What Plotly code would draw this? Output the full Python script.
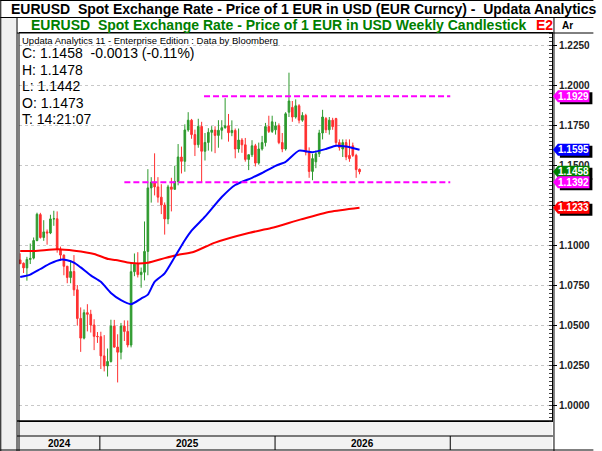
import plotly.graph_objects as go
import pandas as pd

# ---------------- data (weekly candles, week-ending dates) ----------------
dates = [
 "2024-07-19","2024-07-26","2024-08-02","2024-08-09","2024-08-16","2024-08-23","2024-08-30",
 "2024-09-06","2024-09-13","2024-09-20","2024-09-27","2024-10-04","2024-10-11","2024-10-18",
 "2024-10-25","2024-11-01","2024-11-08","2024-11-15","2024-11-22","2024-11-29","2024-12-06",
 "2024-12-13","2024-12-20","2024-12-27","2025-01-03","2025-01-10","2025-01-17","2025-01-24",
 "2025-01-31","2025-02-07","2025-02-14","2025-02-21","2025-02-28","2025-03-07","2025-03-14",
 "2025-03-21","2025-03-28","2025-04-04","2025-04-11","2025-04-18","2025-04-25","2025-05-02",
 "2025-05-09","2025-05-16","2025-05-23","2025-05-30","2025-06-06","2025-06-13","2025-06-20",
 "2025-06-27","2025-07-04","2025-07-11","2025-07-18","2025-07-25","2025-08-01","2025-08-08",
 "2025-08-15","2025-08-22","2025-08-29","2025-09-05","2025-09-12","2025-09-19","2025-09-26",
 "2025-10-03","2025-10-10","2025-10-17","2025-10-24","2025-10-31","2025-11-07","2025-11-14",
 "2025-11-21","2025-11-28","2025-12-05","2025-12-12","2025-12-19","2025-12-26","2026-01-02",
 "2026-01-09","2026-01-16","2026-01-23","2026-01-30","2026-02-06","2026-02-13","2026-02-20",
 "2026-02-27","2026-03-06","2026-03-13","2026-03-20","2026-03-27","2026-04-03","2026-04-10",
 "2026-04-17","2026-04-24","2026-05-01","2026-05-08","2026-05-15","2026-05-22","2026-05-29",
 "2026-06-05","2026-06-12","2026-06-19","2026-06-26"]
opens = [
 1.0907,1.0886,1.0857,1.0910,1.0918,1.1028,1.1190,1.1047,1.1082,1.1075,1.1163,1.1164,1.0974,1.0937,
 1.0867,1.0797,1.0834,1.0720,1.0541,1.0418,1.0577,1.0567,1.0500,1.0429,1.0427,1.0307,1.0244,1.0272,
 1.0493,1.0362,1.0330,1.0493,1.0460,1.0375,1.0833,1.0880,1.0815,1.0830,1.0960,1.1357,1.1393,1.1363,
 1.1299,1.1250,1.1163,1.1363,1.1348,1.1397,1.1550,1.1523,1.1719,1.1780,1.1690,1.1627,1.1741,1.1586,
 1.1641,1.1704,1.1718,1.1685,1.1717,1.1733,1.1745,1.1702,1.1716,1.1600,1.1656,1.1626,1.1535,1.1564,
 1.1620,1.1512,1.1600,1.1640,1.1740,1.1710,1.1720,1.1745,1.1640,1.1600,1.1830,1.1860,1.1800,1.1870,
 1.1780,1.1810,1.1580,1.1460,1.1520,1.1570,1.1700,1.1790,1.1720,1.1780,1.1790,1.1640,1.1600,1.1640,
 1.1560,1.1620,1.1560,1.1473]
highs = [
 1.0948,1.0891,1.0926,1.1009,1.1047,1.1202,1.1201,1.1155,1.1097,1.1189,1.1214,1.1210,1.0990,1.0941,
 1.0870,1.0905,1.0937,1.0750,1.0610,1.0597,1.0630,1.0595,1.0536,1.0456,1.0458,1.0437,1.0353,1.0533,
 1.0532,1.0442,1.0513,1.0529,1.0528,1.0888,1.0947,1.0955,1.0859,1.1147,1.1474,1.1424,1.1573,1.1424,
 1.1380,1.1266,1.1376,1.1420,1.1495,1.1631,1.1615,1.1754,1.1830,1.1788,1.1721,1.1789,1.1770,1.1700,
 1.1730,1.1743,1.1742,1.1780,1.1780,1.1918,1.1819,1.1779,1.1728,1.1728,1.1668,1.1669,1.1566,1.1655,
 1.1632,1.1640,1.1682,1.1763,1.1808,1.1808,1.1770,1.1760,1.1700,1.1830,1.2077,1.1900,1.1910,1.1880,
 1.1830,1.1820,1.1610,1.1570,1.1590,1.1720,1.1845,1.1800,1.1800,1.1795,1.1795,1.1660,1.1660,1.1660,
 1.1660,1.1640,1.1570,1.1478]
lows = [
 1.0882,1.0825,1.0777,1.0881,1.0910,1.1023,1.1040,1.1026,1.1002,1.1068,1.1120,1.0952,1.0900,1.0811,
 1.0761,1.0761,1.0682,1.0496,1.0332,1.0410,1.0460,1.0453,1.0343,1.0388,1.0225,1.0210,1.0178,1.0265,
 1.0358,1.0141,1.0285,1.0400,1.0360,1.0360,1.0805,1.0797,1.0733,1.0779,1.0811,1.1265,1.1310,1.1265,
 1.1193,1.1065,1.1130,1.1210,1.1347,1.1373,1.1447,1.1458,1.1708,1.1664,1.1556,1.1608,1.1391,1.1528,
 1.1590,1.1584,1.1574,1.1608,1.1660,1.1727,1.1646,1.1680,1.1542,1.1577,1.1576,1.1521,1.1468,1.1550,
 1.1491,1.1502,1.1590,1.1616,1.1700,1.1700,1.1690,1.1630,1.1580,1.1590,1.1800,1.1770,1.1790,1.1760,
 1.1770,1.1560,1.1420,1.1405,1.1480,1.1550,1.1660,1.1700,1.1690,1.1720,1.1620,1.1590,1.1550,1.1530,
 1.1520,1.1550,1.1420,1.1442]
closes = [
 1.0883,1.0857,1.0910,1.0916,1.1028,1.1192,1.1047,1.1082,1.1075,1.1163,1.1164,1.0974,1.0937,1.0867,
 1.0797,1.0834,1.0720,1.0541,1.0418,1.0577,1.0567,1.0500,1.0429,1.0427,1.0307,1.0244,1.0272,1.0493,
 1.0362,1.0330,1.0493,1.0460,1.0375,1.0833,1.0880,1.0815,1.0830,1.0960,1.1357,1.1393,1.1363,1.1299,
 1.1250,1.1163,1.1363,1.1348,1.1397,1.1550,1.1523,1.1719,1.1780,1.1690,1.1627,1.1741,1.1586,1.1641,
 1.1704,1.1718,1.1685,1.1717,1.1733,1.1745,1.1702,1.1716,1.1600,1.1656,1.1626,1.1535,1.1564,1.1620,
 1.1512,1.1600,1.1640,1.1740,1.1710,1.1770,1.1745,1.1640,1.1600,1.1820,1.1900,1.1800,1.1870,1.1780,
 1.1810,1.1580,1.1460,1.1540,1.1570,1.1700,1.1800,1.1720,1.1780,1.1740,1.1640,1.1610,1.1640,1.1550,
 1.1540,1.1560,1.1471,1.1458]

# moving averages
ma_fast_dates = ["2024-07-19","2024-08-09","2024-08-30","2024-09-20","2024-10-11","2024-10-25",
 "2024-11-08","2024-11-22","2024-12-13","2025-01-03","2025-01-24","2025-02-14","2025-03-07",
 "2025-03-28","2025-04-11","2025-04-25","2025-05-16","2025-06-06","2025-06-27","2025-07-11",
 "2025-08-08","2025-09-12","2025-10-10","2025-11-14","2025-12-05","2026-01-02","2026-01-23",
 "2026-02-20","2026-03-20","2026-04-17","2026-05-08","2026-05-29","2026-06-26"]
ma_fast = [1.0800,1.0815,1.0850,1.0885,1.0908,1.0905,1.0890,1.0860,1.0810,1.0770,1.0700,1.0655,
 1.0630,1.0665,1.0690,1.0770,1.0823,1.0925,1.1030,1.1090,1.1177,1.1300,1.1375,1.1420,1.1450,
 1.1495,1.1520,1.1590,1.1580,1.1600,1.1620,1.1615,1.1595]
ma_slow_dates = ["2024-07-19","2024-08-19","2024-10-05","2024-11-09","2024-12-20","2025-01-19",
 "2025-02-03","2025-03-07","2025-04-11","2025-05-16","2025-06-12","2025-07-13","2025-08-29",
 "2025-11-07","2025-12-24","2026-02-24","2026-04-26","2026-06-26"]
ma_slow = [1.0963,1.0963,1.0973,1.0964,1.0944,1.0912,1.0906,1.0887,1.0889,1.0918,1.0938,1.0955,
 1.1015,1.1075,1.1106,1.1160,1.1208,1.1233]

level_values = [1.1929, 1.1392]
level_starts = ["2025-08-06", "2025-02-21"]
tag_values = [1.1929, 1.1595, 1.1458, 1.1392, 1.1233]
tag_colors = ["#ff00ff", "#0000ff", "#008000", "#ff00ff", "#ff0000"]
y_ticks = [1.0, 1.025, 1.05, 1.075, 1.1, 1.125, 1.15, 1.175, 1.2, 1.225]
years = ["2024", "2025", "2026"]
year_bounds = ["2024-07-16", "2025-01-01", "2026-01-01", "2027-01-01"]
info_lines = ["C: 1.1458\u00a0\u00a0-0.0013 (-0.11%)", "H: 1.1478", "L: 1.1442", "O: 1.1473", "T: 14:21:07"]

# ---------------- layout geometry ----------------
W, H = 602, 451
L, R, T, B = 19, 560, 33, 421
PW, PH = R - L, B - T
YPX = 1600.0  # pixels per price unit (for tag sizes)
def px(x): return (x - L) / PW
def py(y): return (B - y) / PH
FONT = "Arial, Liberation Sans, sans-serif"

fig = go.Figure()
fig.add_trace(go.Candlestick(
    x=dates, open=opens, high=highs, low=lows, close=closes,
    increasing=dict(line=dict(color="#2e9a2e", width=1), fillcolor="#2e9a2e"),
    decreasing=dict(line=dict(color="#ff3030", width=1), fillcolor="#ff3030"),
    whiskerwidth=0, showlegend=False, hoverinfo="skip"))
fig.add_trace(go.Scatter(x=ma_slow_dates, y=ma_slow, mode="lines",
    line=dict(color="#ff0000", width=2, shape="spline", smoothing=0.6), showlegend=False))
fig.add_trace(go.Scatter(x=ma_fast_dates, y=ma_fast, mode="lines",
    line=dict(color="#0000ff", width=2, shape="spline", smoothing=0.6), showlegend=False))

shapes = []
shapes.append(dict(type="rect", xref="paper", yref="paper", x0=px(0), x1=px(17), y0=py(17), y1=py(451),
                   fillcolor="#f0f0f0", line=dict(width=0), layer="below"))
shapes.append(dict(type="rect", xref="paper", yref="paper", x0=0, x1=1, y0=py(421), y1=py(450),
                   fillcolor="#f2f2f2", line=dict(width=0), layer="below"))
def hline(y, x0, x1, w=1):
    shapes.append(dict(type="line", xref="paper", yref="paper", x0=px(x0), x1=px(x1), y0=py(y), y1=py(y),
                       line=dict(color="black", width=w)))
def vline(x, y0, y1, w=1):
    shapes.append(dict(type="line", xref="paper", yref="paper", x0=px(x), x1=px(x), y0=py(y0), y1=py(y1),
                       line=dict(color="black", width=w)))
hline(17.5, 0, 602)
hline(33, 17, 602)
hline(421, 17, 561, 1.5)
hline(436, 17, 561)
hline(450, 0, 602)
hline(0.5, 0, 602)
vline(0.5, 0, 451)
vline(17, 17, 451)
vline(19, 33, 451)
vline(562, 17, 451)
for d in year_bounds[1:]:
    shapes.append(dict(type="line", xref="x", yref="paper", x0=d, x1=d, y0=py(436), y1=py(450),
                       line=dict(color="black", width=1)))
for v, s in zip(level_values, level_starts):
    shapes.append(dict(type="line", xref="x", yref="y", x0=s, x1=year_bounds[-1], y0=v, y1=v,
                       line=dict(color="#ff00ff", width=2, dash="6px,3px")))

annotations = []
for v, c in zip(tag_values, tag_colors):
    h = 6.0 / YPX
    s = 2.0 / YPX
    # shadow
    shapes.append(dict(type="rect", xref="paper", yref="y", x0=px(568), x1=px(601), y0=v - h - s, y1=v + h - s,
                       fillcolor="black", line=dict(width=0)))
    # body with arrow point
    shapes.append(dict(type="path", xref="paper", yref="y",
        path="M %f %f L %f %f L %f %f L %f %f L %f %f Z" % (
            px(561), v, px(566), v + h, px(598), v + h, px(598), v - h, px(566), v - h),
        fillcolor=c, line=dict(width=0)))
    annotations.append(dict(xref="paper", yref="y", x=px(581.5), y=v, xanchor="center", yanchor="middle",
        text="<b>%.4f</b>" % v, showarrow=False, font=dict(family=FONT, size=10, color="white")))

annotations.append(dict(xref="paper", yref="paper", x=px(9), y=py(9), xanchor="left", yanchor="middle",
    text="<b>EURUSD\u00a0\u00a0Spot Exchange Rate - Price of 1 EUR in USD (EUR Curncy) -\u00a0\u00a0Updata Analytics</b>",
    showarrow=False, font=dict(family=FONT, size=14, color="black")))
annotations.append(dict(xref="paper", yref="paper", x=px(29), y=py(25), xanchor="left", yanchor="middle",
    text="<b>EURUSD\u00a0\u00a0Spot Exchange Rate - Price of 1 EUR in USD Weekly Candlestick</b>",
    showarrow=False, font=dict(family=FONT, size=14, color="#008000")))
annotations.append(dict(xref="paper", yref="paper", x=px(542), y=py(25), xanchor="left", yanchor="middle",
    text="<b>E2</b>", showarrow=False, font=dict(family=FONT, size=14, color="#ff0000")))
annotations.append(dict(xref="paper", yref="paper", x=px(568), y=py(25), xanchor="left", yanchor="middle",
    text="<b>Ar</b>", showarrow=False, font=dict(family=FONT, size=10, color="black")))
annotations.append(dict(xref="paper", yref="paper", x=px(20), y=py(40), xanchor="left", yanchor="middle",
    text="Updata Analytics 11 - Enterprise Edition : Data by Bloomberg",
    showarrow=False, font=dict(family=FONT, size=9.5, color="black")))
for i, t in enumerate(info_lines):
    annotations.append(dict(xref="paper", yref="paper", x=px(20), y=py(53 + i * 16.5), xanchor="left",
        yanchor="middle", text=t, showarrow=False, font=dict(family=FONT, size=14, color="black")))
for i, yl in enumerate(years):
    a = pd.Timestamp(year_bounds[i]); b = pd.Timestamp(year_bounds[i + 1])
    annotations.append(dict(xref="x", yref="paper", x=(a + (b - a) / 2).strftime("%Y-%m-%d"), y=py(443),
        xanchor="center", yanchor="middle", text="<b>%s</b>" % yl, showarrow=False,
        font=dict(family=FONT, size=10, color="black")))

fig.update_layout(
    width=W, height=H, margin=dict(l=L, r=W - R, t=T, b=H - B),
    paper_bgcolor="white", plot_bgcolor="white",
    shapes=shapes, annotations=annotations,
    xaxis=dict(type="date", range=["2024-07-16 12:00", "2027-08-01"], showgrid=False,
               showticklabels=False, ticks="", showline=True, linecolor="black", mirror=True,
               rangeslider=dict(visible=False), zeroline=False, fixedrange=True),
    yaxis=dict(side="right", range=[0.99, 1.2325], tickvals=y_ticks,
               ticktext=["<b>%.4f</b>" % v for v in y_ticks], showgrid=True, gridcolor="#c8c8c8",
               griddash="dot", gridwidth=1, ticks="outside", ticklen=4, tickcolor="black",
               showline=True, linecolor="black", linewidth=1, zeroline=False,
               tickfont=dict(family=FONT, size=10, color="#222222"),
               minor=dict(dtick=0.0025, ticks="inside", ticklen=3, tickcolor="#444444", showgrid=False)),
    font=dict(family=FONT),
)
fig.write_html("out.html")
